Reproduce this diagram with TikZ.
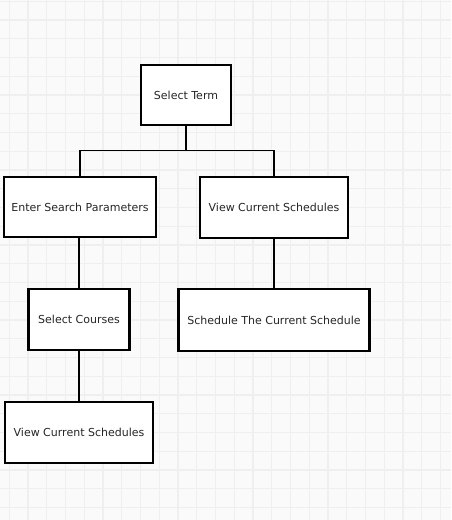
\documentclass[tikz,border=0pt]{standalone}
\usepackage{fontspec}
\setmainfont{DejaVu Sans}
\begin{document}
\begin{tikzpicture}[x=1pt, y=-1pt,
  box/.style={draw=black, line width=2.2pt, fill=white, inner sep=0pt, align=center, font=\fontsize{11}{13}\selectfont, text=txt},
  link/.style={draw=black, line width=1.6pt},
  gridline/.style={draw=gridcol, line width=1.1pt}]
\definecolor{paper}{HTML}{FAFAFA}
\definecolor{gridcol}{HTML}{EFEFEF}
\definecolor{txt}{HTML}{262626}
\useasboundingbox (0,0) rectangle (451,520);
\fill[paper] (0,0) rectangle (451,520);
\foreach \i in {0,...,23} \draw[gridline] ({9.2+18.75*\i},0) -- ({9.2+18.75*\i},520);
\foreach \j in {0,...,27} \draw[gridline] (0,{1.2+18.75*\j}) -- (451,{1.2+18.75*\j});
\node[box, minimum width=90pt, minimum height=60pt] (term) at (186,95) {Select Term};
\node[box, minimum width=152pt, minimum height=60pt] (search) at (80,207) {Enter Search Parameters};
\node[box, minimum width=148pt, minimum height=61pt] (viewcur) at (274,207.5) {View Current Schedules};
\node[box, minimum width=101pt, minimum height=61pt] (courses) at (79,319.5) {Select Courses};
\node[box, minimum width=191pt, minimum height=62pt] (schedule) at (274,320) {Schedule The Current Schedule};
\node[box, minimum width=148pt, minimum height=61pt] (viewsel) at (79,432.5) {View Current Schedules};
\coordinate (fork) at (186,150.5);
\draw[link] (term) -- (fork);
\draw[link] (search) |- (fork) -| (viewcur);
\draw[link] (viewcur) -- (schedule);
\draw[link] (courses) -- (courses |- search.south);
\draw[link] (courses) -- (viewsel);
\end{tikzpicture}
\end{document}
